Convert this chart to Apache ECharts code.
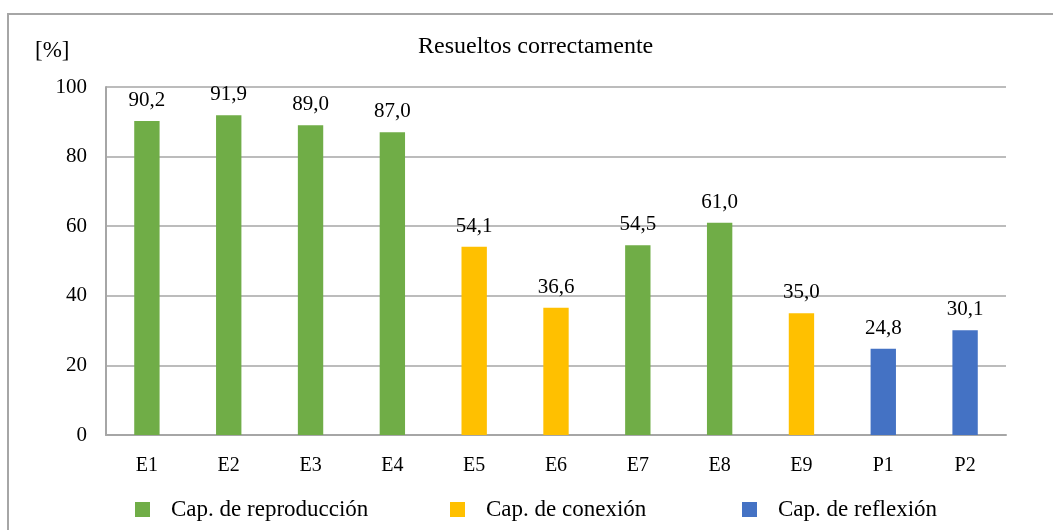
<!DOCTYPE html>
<html><head><meta charset="utf-8">
<script src="https://cdn.jsdelivr.net/npm/echarts@6/dist/echarts.min.js"></script>
<style>html,body{margin:0;padding:0;background:#fff}#c{width:1053px;height:530px}</style>
</head><body><div id="c"></div>
<script>
const categories = ['E1','E2','E3','E4','E5','E6','E7','E8','E9','P1','P2'];
const reproduccion = [90.2, 91.9, 89.0, 87.0, null, null, 54.5, 61.0, null, null, null];
const conexion     = [null, null, null, null, 54.1, 36.6, null, null, 35.0, null, null];
const reflexion    = [null, null, null, null, null, null, null, null, null, 24.8, 30.1];
const yTicks = [0, 20, 40, 60, 80, 100];
const seriesNames = ['Cap. de reproducción', 'Cap. de conexión', 'Cap. de reflexión'];
const colors = ['#70AD47', '#FFC000', '#4472C4'];
const legendLeft = [135, 450, 742];

const font = 'Liberation Serif';
const chart = echarts.init(document.getElementById('c'), null, {renderer:'canvas'});
const mk = (name, data, color) => ({
  name, type:'bar', stack:'t', data, barWidth:'31%',
  itemStyle:{color},
  label:{show:true, position:'top', distance:10, fontFamily:font, fontSize:21, color:'#000',
    formatter:p => p.value == null ? '' : p.value.toFixed(1).replace('.', ',')}
});
chart.setOption({
  animation:false,
  backgroundColor:'#fff',
  graphic:[
    {type:'rect', shape:{x:8, y:14, width:1100, height:600},
      style:{fill:'none', stroke:'#a6a6a6', lineWidth:2}, silent:true},
    {type:'text', left:35, top:39,
      style:{text:'[%]', fontFamily:font, fontSize:23, fill:'#000'}}
  ],
  title:{text:'Resueltos correctamente', left:413, top:30,
    textStyle:{fontFamily:font, fontSize:24, fontWeight:'normal', color:'#000'}},
  grid:{left:106, right:47, top:87, bottom:95},
  legend:seriesNames.map((n, i) => ({
    left:legendLeft[i], top:498, padding:0, itemWidth:15, itemHeight:15, icon:'rect',
    textStyle:{fontFamily:font, fontSize:23, color:'#000', padding:[0,0,0,16]},
    data:[n]})),
  xAxis:{type:'category', data:categories,
    axisLine:{lineStyle:{color:'#a6a6a6', width:2}}, axisTick:{show:false},
    axisLabel:{fontFamily:font, fontSize:20, color:'#000', margin:21}},
  yAxis:{type:'value', min:0, max:100, interval:20,
    axisLine:{show:true, lineStyle:{color:'#a6a6a6', width:2}}, axisTick:{show:false},
    splitLine:{lineStyle:{color:'#a6a6a6', width:1.5}},
    axisLabel:{fontFamily:font, fontSize:21, color:'#000', margin:19,
      formatter:v => yTicks.includes(v) ? String(v) : ''}},
  series:[mk(seriesNames[0], reproduccion, colors[0]),
          mk(seriesNames[1], conexion, colors[1]),
          mk(seriesNames[2], reflexion, colors[2])]
});
</script></body></html>
